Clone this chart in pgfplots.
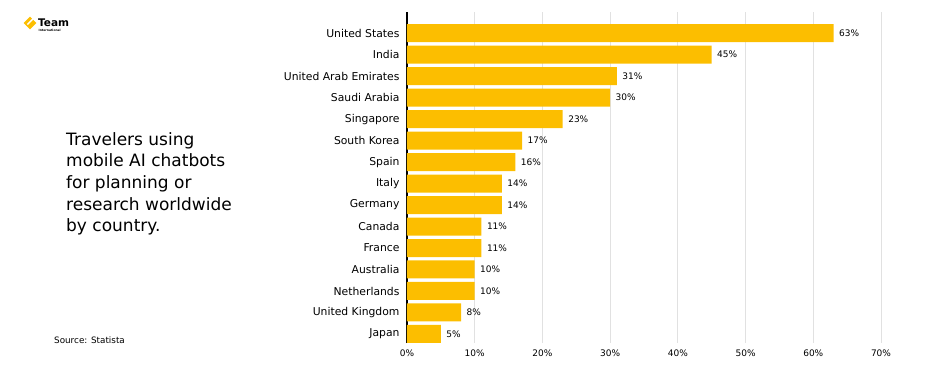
\documentclass[border=0pt]{standalone}
\usepackage{pgfplots}
\pgfplotsset{compat=1.18}
\usepackage{pgfplotstable}
\usepackage{fontspec}
\setmainfont{DejaVu Sans}
\definecolor{baryellow}{RGB}{252,190,0}
\definecolor{gridgray}{RGB}{225,225,225}

\pgfplotstableread{
pos value
0 5
1 8
2 10
3 10
4 11
5 11
6 14
7 14
8 16
9 17
10 23
11 30
12 31
13 45
14 63
}\datatable

\begin{document}
\begin{tikzpicture}
\path[use as bounding box] (-407pt,-33pt) rectangle (519pt,343pt);
\begin{axis}[
  width=474pt, height=331pt, scale only axis,
  xmin=0, xmax=70, ymin=-0.42, ymax=14.98,
  xbar, bar width=18pt, bar shift=0pt,
  axis y line*=left, axis x line*=bottom,
  x axis line style={draw=none},
  y axis line style={black, line width=1.3pt},
  xtick={0,10,20,30,40,50,60,70},
  xticklabels={0\%,10\%,20\%,30\%,40\%,50\%,60\%,70\%},
  ytick={0,...,14},
  yticklabels={Japan,United Kingdom,Netherlands,Australia,France,Canada,Germany,Italy,Spain,South Korea,Singapore,Saudi Arabia,United Arab Emirates,India,United States},
  major tick length=0pt,
  xmajorgrids, grid style={gridgray, line width=0.8pt},
  tick label style={font=\fontsize{10.8}{12}\selectfont},
  xticklabel style={font=\fontsize{9}{10}\selectfont, yshift=-3pt},
  yticklabel style={xshift=-4pt},
  /pgf/number format/assume math mode=true,
  nodes near coords={\pgfmathprintnumber{\pgfplotspointmeta}\%},
  point meta=x,
  every node near coord/.append style={font=\fontsize{9}{10}\selectfont, anchor=west, xshift=2pt},
  clip=false,
]
\addplot[fill=baryellow, draw=none] table[x=value,y=pos] {\datatable};
\end{axis}
% logo
\begin{scope}[shift={(-407pt,-33pt)}]
\fill[baryellow,rotate around={45:(30pt,353pt)}] (25.5pt,348.5pt) rectangle (34.5pt,357.5pt);
\fill[white] (27pt,352pt) -- (33pt,358pt) -- (34pt,357pt) -- (28pt,351pt) -- cycle;
\node[anchor=base west,inner sep=0,font=\fontsize{10.5}{11}\selectfont\bfseries] at (38pt,350pt) {Team};
\node[anchor=base west,inner sep=0,font=\fontsize{3}{3.2}\selectfont\bfseries] at (38.5pt,344.5pt) {International};
% title
\node[anchor=north west,inner sep=0,align=left,font=\fontsize{17}{21.7}\selectfont] at (66pt,244pt)
  {Travelers using\\mobile AI chatbots\\for planning or\\research worldwide\\by country.};
\node[anchor=west,inner sep=0,font=\fontsize{8.8}{10}\selectfont] at (54pt,36pt) {Source: Statista};
\end{scope}
\end{tikzpicture}
\end{document}
